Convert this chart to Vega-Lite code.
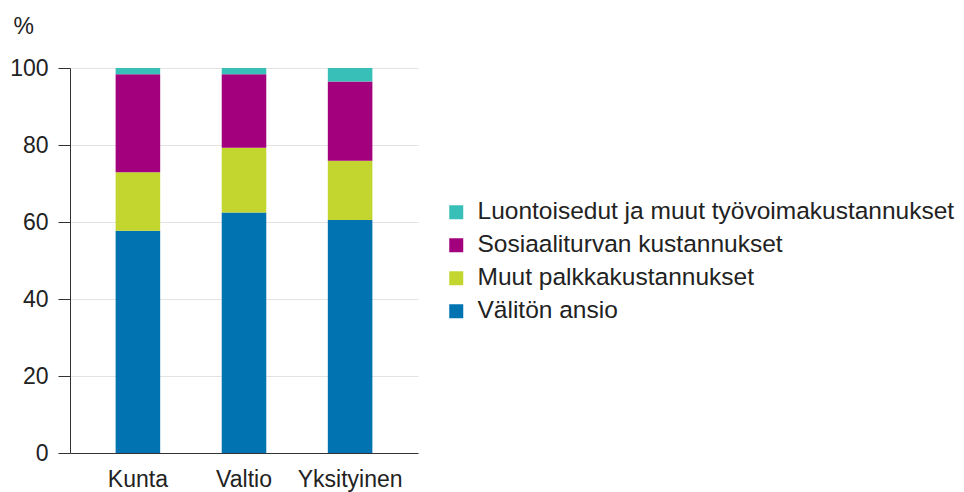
{
  "$schema": "https://vega.github.io/schema/vega-lite/v6.json",
  "autosize": "none",
  "width": 348,
  "height": 385,
  "padding": {"left": 70, "top": 68, "right": 546, "bottom": 39},
  "background": "white",
  "config": {
    "view": {"stroke": null},
    "font": "Liberation Sans"
  },
  "data": {
    "values": [
      {"sektori": "Kunta", "erä": "Välitön ansio", "k": 1, "osuus": 57.7},
      {"sektori": "Kunta", "erä": "Muut palkkakustannukset", "k": 2, "osuus": 15.2},
      {"sektori": "Kunta", "erä": "Sosiaaliturvan kustannukset", "k": 3, "osuus": 25.5},
      {"sektori": "Kunta", "erä": "Luontoisedut ja muut työvoimakustannukset", "k": 4, "osuus": 1.6},
      {"sektori": "Valtio", "erä": "Välitön ansio", "k": 1, "osuus": 62.5},
      {"sektori": "Valtio", "erä": "Muut palkkakustannukset", "k": 2, "osuus": 16.8},
      {"sektori": "Valtio", "erä": "Sosiaaliturvan kustannukset", "k": 3, "osuus": 19.1},
      {"sektori": "Valtio", "erä": "Luontoisedut ja muut työvoimakustannukset", "k": 4, "osuus": 1.6},
      {"sektori": "Yksityinen", "erä": "Välitön ansio", "k": 1, "osuus": 60.5},
      {"sektori": "Yksityinen", "erä": "Muut palkkakustannukset", "k": 2, "osuus": 15.4},
      {"sektori": "Yksityinen", "erä": "Sosiaaliturvan kustannukset", "k": 3, "osuus": 20.6},
      {"sektori": "Yksityinen", "erä": "Luontoisedut ja muut työvoimakustannukset", "k": 4, "osuus": 3.5}
    ]
  },
  "mark": {"type": "bar"},
  "encoding": {
    "x": {
      "field": "sektori",
      "type": "nominal",
      "sort": ["Kunta", "Valtio", "Yksityinen"],
      "scale": {"paddingInner": 0.58, "paddingOuter": 0.43},
      "axis": {
        "title": null,
        "labelAngle": 0,
        "ticks": false,
        "labelPadding": 15,
        "labelFontSize": 23,
        "labelColor": "#222",
        "domainColor": "#333",
        "grid": false
      }
    },
    "y": {
      "field": "osuus",
      "type": "quantitative",
      "stack": "zero",
      "scale": {"domain": [0, 100], "nice": false},
      "axis": {
        "values": [0, 20, 40, 60, 80, 100],
        "title": "%",
        "titleAngle": 0,
        "titleX": -57,
        "titleY": -35,
        "titleAlign": "left",
        "titleBaseline": "alphabetic",
        "titleFontSize": 23,
        "titleFontWeight": "normal",
        "titleColor": "#222",
        "tickSize": 12,
        "tickColor": "#333",
        "domainColor": "#333",
        "labelPadding": 10,
        "labelFontSize": 23,
        "labelColor": "#222",
        "gridColor": "#e3e3e3"
      }
    },
    "color": {
      "field": "erä",
      "type": "nominal",
      "scale": {
        "domain": ["Luontoisedut ja muut työvoimakustannukset", "Sosiaaliturvan kustannukset", "Muut palkkakustannukset", "Välitön ansio"],
        "range": ["#38C0B8", "#A3007E", "#C3D62F", "#0073B0"]
      },
      "legend": {
        "title": null,
        "orient": "none",
        "legendX": 374,
        "legendY": 132,
        "symbolType": "square",
        "symbolSize": 196,
        "symbolStrokeWidth": 0,
        "labelFontSize": 24.5,
        "labelColor": "#222",
        "labelOffset": 9,
        "rowPadding": 8,
        "labelLimit": 600
      }
    },
    "order": {"field": "k", "type": "quantitative"}
  }
}
